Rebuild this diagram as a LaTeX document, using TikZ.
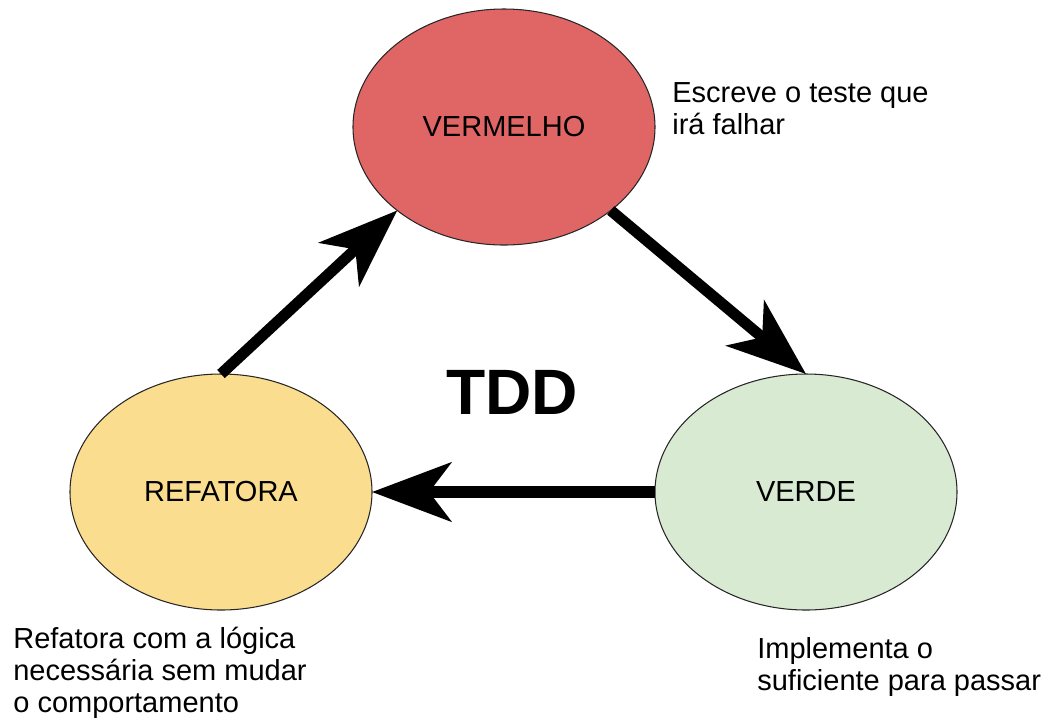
\documentclass[tikz,border=0pt]{standalone}
\usepackage{fontspec}
\setmainfont{Liberation Sans}
\usepackage{xcolor}
\usetikzlibrary{shapes.geometric,arrows.meta,positioning}

\definecolor{redfill}{HTML}{E06666}
\definecolor{yellowfill}{HTML}{FBDD8F}
\definecolor{greenfill}{HTML}{D9EAD3}

\begin{document}
\begin{tikzpicture}[
    phase/.style={ellipse, draw=black!85, line width=0.6pt, minimum width=6.04cm, minimum height=4.72cm, outer sep=0pt, font=\fontsize{16.5}{18.5}\selectfont},
    arrow/.style={-{Stealth[length=45pt, width=33.5pt, inset=12.5pt]}, line width=6.3pt, black},
    note/.style={anchor=base west, align=left, inner sep=0pt, font=\fontsize{16.5}{18.2}\selectfont},
    title/.style={font=\fontsize{36.5}{40}\selectfont\bfseries}
]
    \useasboundingbox (0,0) rectangle (21,-14.42);

    % === Phases of the cycle ===
    \node[phase, fill=redfill] (vermelho) at (10.08,-2.54) {VERMELHO};
    \node[phase, fill=yellowfill] (refatora) at (4.42,-9.84) {REFATORA};
    \node[phase, fill=greenfill] (verde) at (16.12,-9.84) {VERDE};

    % Center title
    \node[title] (tdd) at (10.24,-7.84) {TDD};

    % === Cycle arrows ===
    \draw[arrow] (vermelho.south east) -- (verde.north);
    \draw[arrow] (verde.west) -- (refatora.east);
    \draw[arrow] (refatora.north) -- (vermelho.south west);

    % === Notes (anchored on the last line) ===
    \node[note] (notevermelho) at (13.44,-2.68) {Escreve o teste que\\irá falhar};
    \node[note] (noteverde) at (15.14,-13.8) {Implementa o\\suficiente para passar};
    \node[note] (noterefatora) at (0.26,-14.24) {Refatora com a lógica\\necessária sem mudar\\o comportamento};
\end{tikzpicture}
\end{document}
